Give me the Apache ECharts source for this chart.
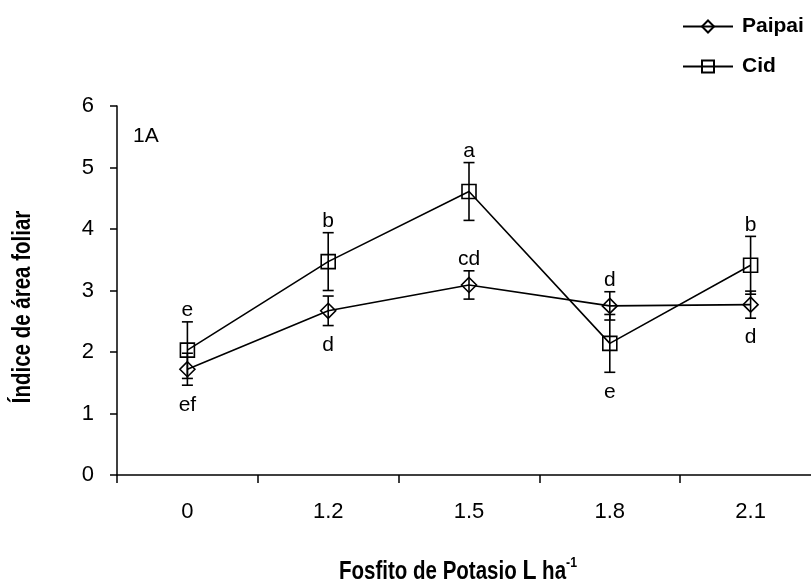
<!DOCTYPE html>
<html>
<head>
<meta charset="utf-8">
<script src="https://cdn.jsdelivr.net/npm/echarts@6/dist/echarts.min.js"></script>
<style>html,body{margin:0;padding:0;background:#fff;}#c{width:811px;height:588px;}</style>
</head>
<body>
<div id="c"></div>
<script>
var categories = ['0', '1.2', '1.5', '1.8', '2.1'];
var yTicks = [0, 1, 2, 3, 4, 5, 6];
var paipai = [1.72, 2.67, 3.09, 2.75, 2.77];
var paipaiErr = [0.26, 0.24, 0.23, 0.23, 0.22];
var paipaiLetters = ['ef', 'd', 'cd', 'd', 'd'];
var paipaiLetterPos = ['below', 'below', 'above', 'above', 'below'];
var cid = [2.03, 3.47, 4.61, 2.14, 3.41];
var cidErr = [0.46, 0.47, 0.47, 0.47, 0.47];
var cidLetters = ['e', 'b', 'a', 'e', 'b'];
var cidLetterPos = ['above', 'above', 'above', 'below', 'above'];

var FONT = "'Liberation Sans', Arial, sans-serif";

function errData(vals, errs, letters, pos) {
  return vals.map(function (v, i) {
    return [i, v - errs[i], v + errs[i], letters[i], pos[i] === 'above' ? 1 : 0];
  });
}

var errP = errData(paipai, paipaiErr, paipaiLetters, paipaiLetterPos);
var errC = errData(cid, cidErr, cidLetters, cidLetterPos);

function renderErr(params, api) {
  var i = api.value(0);
  var lo = api.coord([i, api.value(1)]);
  var hi = api.coord([i, api.value(2)]);
  var cap = 5.5;
  var st = { stroke: '#000', lineWidth: 1.6 };
  var d = params.dataIndex;
  var item = params.seriesIndex === 2 ? errP[d] : errC[d];
  var above = item[4] === 1;
  return {
    type: 'group',
    children: [
      { type: 'line', shape: { x1: lo[0], y1: lo[1], x2: hi[0], y2: hi[1] }, style: st },
      { type: 'line', shape: { x1: lo[0] - cap, y1: lo[1], x2: lo[0] + cap, y2: lo[1] }, style: st },
      { type: 'line', shape: { x1: hi[0] - cap, y1: hi[1], x2: hi[0] + cap, y2: hi[1] }, style: st },
      { type: 'text', x: hi[0], y: above ? hi[1] - 1 : lo[1] + 9,
        style: { text: item[3], fill: '#000', font: '21px ' + FONT,
                 align: 'center', verticalAlign: above ? 'bottom' : 'top' } }
    ]
  };
}

var chart = echarts.init(document.getElementById('c'), null, { renderer: 'canvas' });
chart.setOption({
  animation: false,
  backgroundColor: '#fff',
  textStyle: { fontFamily: FONT },
  grid: { left: 117, top: 106, right: -10, bottom: 113, containLabel: false, outerBoundsMode: 'none' },
  legend: {
    orient: 'vertical', left: 677, top: 11, itemWidth: 50, itemHeight: 15, itemGap: 19,
    data: ['Paipai', 'Cid'],
    textStyle: { fontFamily: FONT, fontSize: 21, fontWeight: 'bold', color: '#000', padding: [0, 0, 0, 4] }
  },
  xAxis: {
    type: 'category', data: categories, boundaryGap: true,
    axisLine: { lineStyle: { color: '#000', width: 1.5 } },
    axisTick: { show: true, inside: false, length: 8, lineStyle: { color: '#000', width: 1.5 } },
    axisLabel: { color: '#000', fontSize: 22, fontFamily: FONT, margin: 26 },
    splitLine: { show: false }
  },
  yAxis: {
    type: 'value', min: 0, max: 6, interval: 1,
    axisLine: { show: true, lineStyle: { color: '#000', width: 1.5 } },
    axisTick: { show: true, length: 7, lineStyle: { color: '#000', width: 1.5 } },
    axisLabel: { color: '#000', fontSize: 22, fontFamily: FONT, margin: 23,
      formatter: function (v) { return yTicks.indexOf(v) >= 0 ? String(v) : ''; } },
    splitLine: { show: false }
  },
  graphic: [
    { type: 'text', x: 133, y: 136, style: { text: '1A', font: '21px ' + FONT, fill: '#000', verticalAlign: 'middle' } },
    { type: 'text', x: 23, y: 307, rotation: Math.PI / 2, scaleX: 0.82,
      style: { text: 'Índice de área foliar', font: 'bold 25px ' + FONT, fill: '#000', align: 'center', verticalAlign: 'middle' } },
    { type: 'text', x: 458, y: 570, scaleX: 0.82,
      style: { text: '{a|Fosfito de Potasio }{b|L}{a| ha}{s|-1}', align: 'center', verticalAlign: 'middle', fill: '#000',
        rich: {
          a: { font: 'bold 25px ' + FONT, fill: '#000', verticalAlign: 'bottom' },
          b: { font: 'bold 28px ' + FONT, fill: '#000', verticalAlign: 'bottom' },
          s: { font: 'bold 15px ' + FONT, fill: '#000', verticalAlign: 'top', lineHeight: 30 }
        } } }
  ],
  series: [
    { name: 'Paipai', type: 'line', data: paipai, symbol: 'diamond', symbolSize: [15, 15],
      lineStyle: { color: '#000', width: 1.6 }, itemStyle: { color: 'rgba(255,255,255,0)', borderColor: '#000', borderWidth: 1.6 }, z: 3 },
    { name: 'Cid', type: 'line', data: cid, symbol: 'rect', symbolSize: 14,
      lineStyle: { color: '#000', width: 1.6 }, itemStyle: { color: 'rgba(255,255,255,0)', borderColor: '#000', borderWidth: 1.6 }, z: 3 },
    { type: 'custom', renderItem: renderErr, data: errP, encode: { x: 0, y: [1, 2] }, z: 2, silent: true },
    { type: 'custom', renderItem: renderErr, data: errC, encode: { x: 0, y: [1, 2] }, z: 2, silent: true }
  ]
});
</script>
</body>
</html>
